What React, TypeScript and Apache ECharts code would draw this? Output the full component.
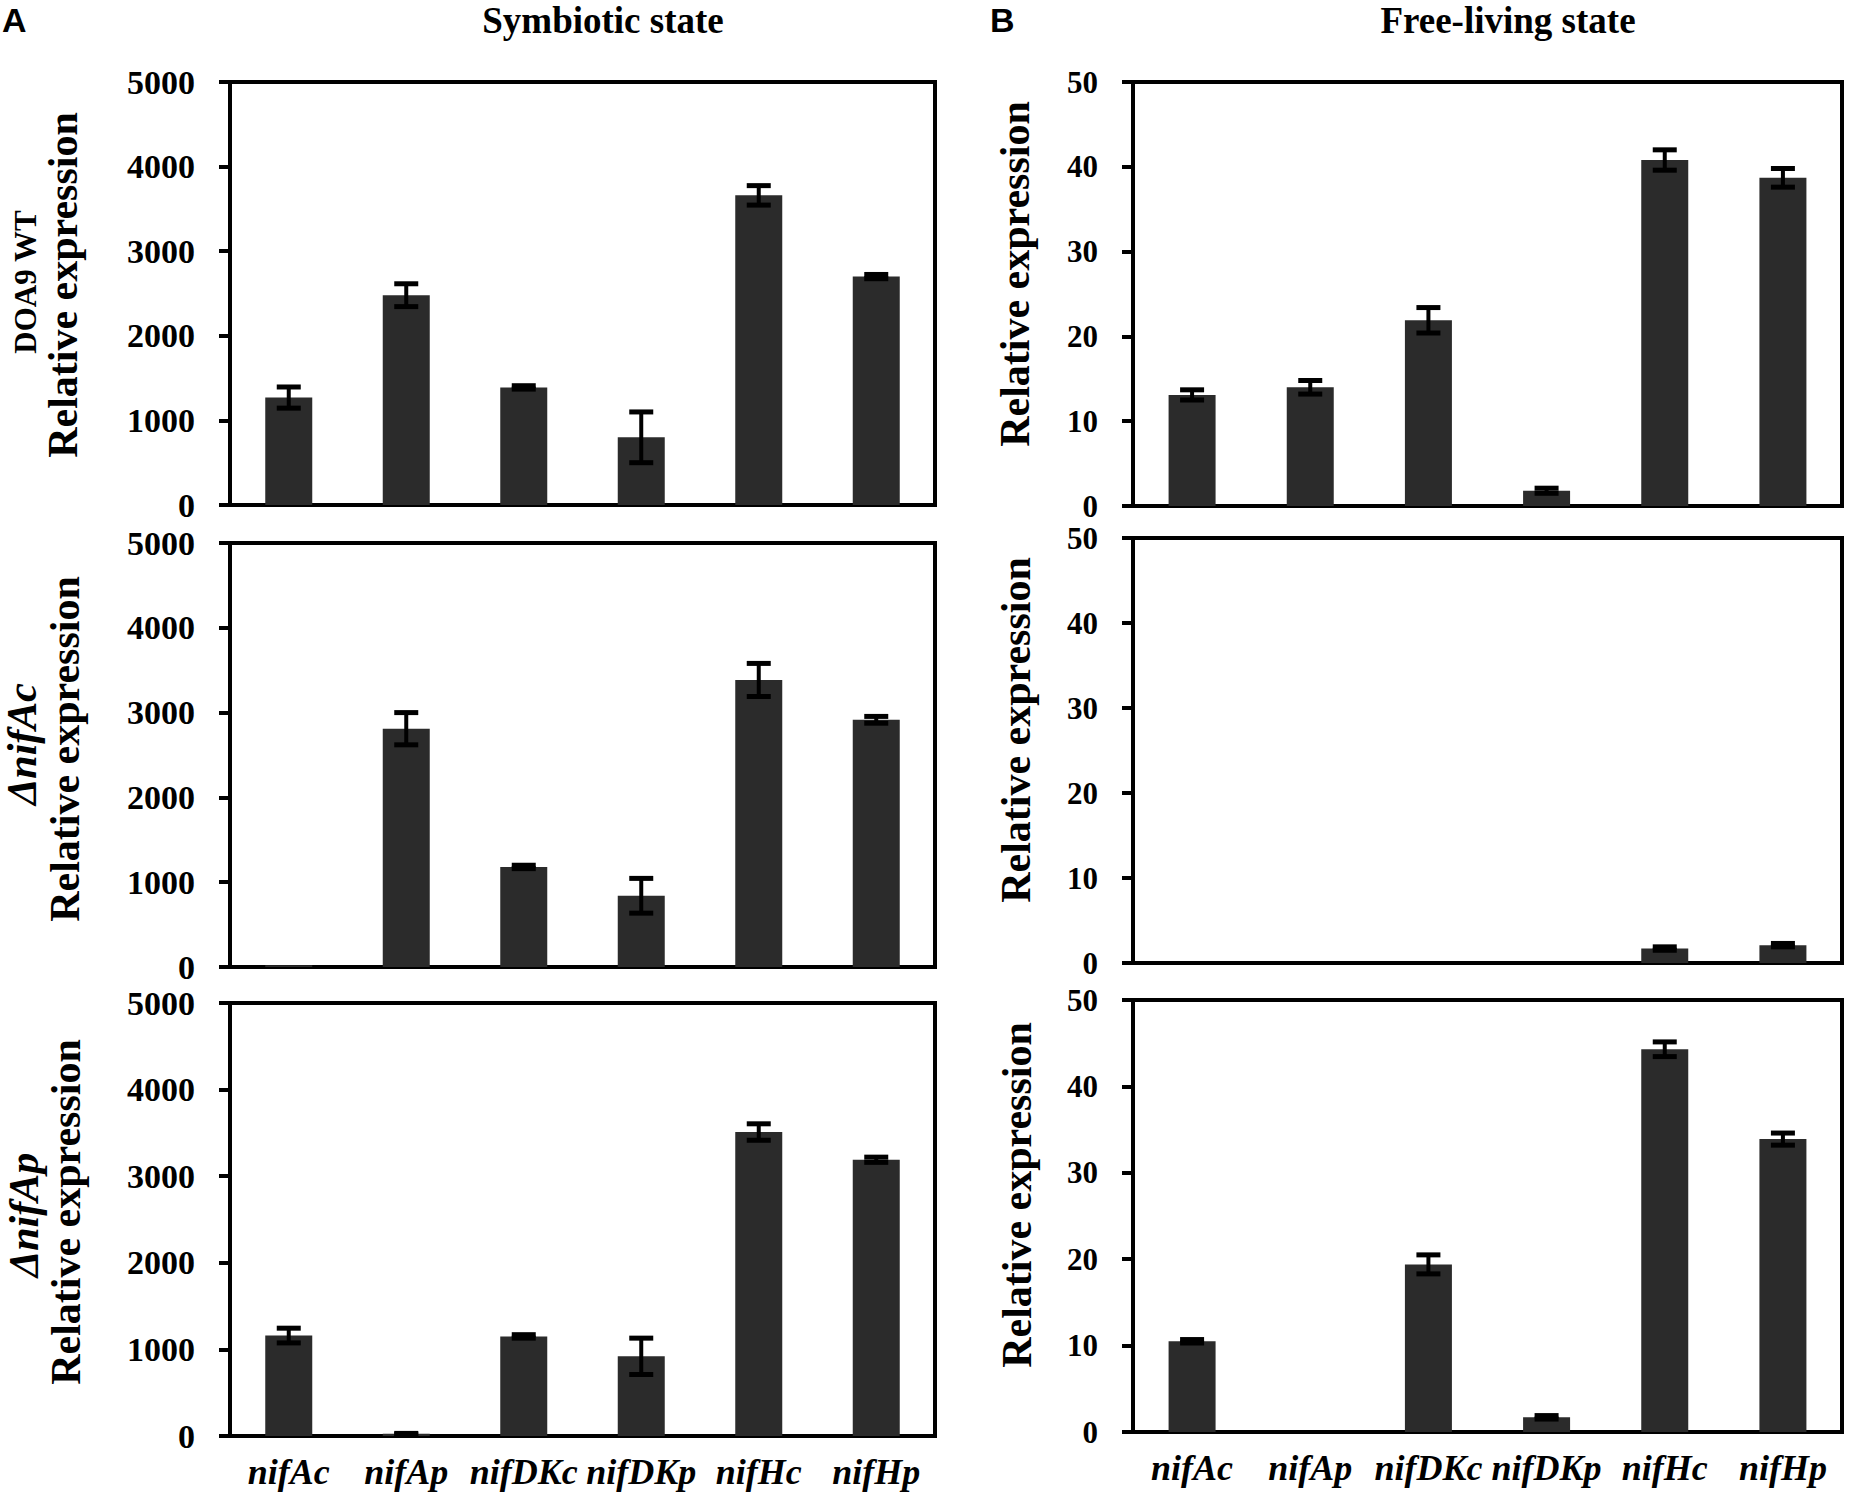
import React, { useEffect, useRef } from "react";
import * as echarts from "echarts";

const genes = ["nifAc", "nifAp", "nifDKc", "nifDKp", "nifHc", "nifHp"];

const symWT = [1270, 2480, 1390, 800, 3660, 2700];
const symWTErr = [125, 135, 20, 300, 115, 25];
const symNifAc = [20, 2810, 1180, 840, 3385, 2915];
const symNifAcErr = [0, 190, 20, 205, 195, 40];
const symNifAp = [1160, 25, 1150, 920, 3510, 3190];
const symNifApErr = [85, 5, 20, 210, 95, 30];

const freeWT = [13.1, 14.0, 21.9, 1.8, 40.8, 38.7];
const freeWTErr = [0.6, 0.8, 1.5, 0.3, 1.2, 1.1];
const freeNifAc = [0, 0, 0, 0, 1.7, 2.1];
const freeNifAcErr = [0, 0, 0, 0, 0.2, 0.2];
const freeNifAp = [10.5, 0, 19.4, 1.7, 44.3, 33.9];
const freeNifApErr = [0.2, 0, 1.1, 0.2, 0.85, 0.7];

const symTicks = { min: 0, max: 5000, interval: 1000 };
const freeTicks = { min: 0, max: 50, interval: 10 };

const FONT = '"Liberation Serif", "Times New Roman", serif';

export default function App() {
  const ref = useRef<HTMLDivElement>(null);

  useEffect(() => {
    if (!ref.current) return;
    const chart = echarts.init(ref.current, undefined, { renderer: "svg" });

    const grids = [
      { left: 230, top: 82, width: 705, height: 423 },
      { left: 1133, top: 82, width: 709, height: 424 },
      { left: 230, top: 543, width: 705, height: 424 },
      { left: 1133, top: 538, width: 709, height: 425 },
      { left: 230, top: 1003, width: 705, height: 433 },
      { left: 1133, top: 1000, width: 709, height: 432 },
    ].map((g) => ({ ...g, show: true, borderColor: "#000", borderWidth: 4, backgroundColor: "transparent" }));

    const panels = [
      { vals: symWT, errs: symWTErr, ticks: symTicks, fs: 34 },
      { vals: freeWT, errs: freeWTErr, ticks: freeTicks, fs: 31 },
      { vals: symNifAc, errs: symNifAcErr, ticks: symTicks, fs: 34 },
      { vals: freeNifAc, errs: freeNifAcErr, ticks: freeTicks, fs: 31 },
      { vals: symNifAp, errs: symNifApErr, ticks: symTicks, fs: 34 },
      { vals: freeNifAp, errs: freeNifApErr, ticks: freeTicks, fs: 31 },
    ];

    const xAxis = panels.map((_, i) => ({
      type: "category",
      gridIndex: i,
      data: genes,
      axisTick: { show: false },
      axisLine: { lineStyle: { color: "#000", width: 4 } },
      axisLabel: {
        show: i >= 4,
        interval: 0,
        color: "#000",
        fontFamily: FONT,
        fontStyle: "italic",
        fontWeight: "bold",
        fontSize: 36,
        margin: 18,
      },
    }));

    const yAxis = panels.map((p, i) => ({
      type: "value",
      gridIndex: i,
      min: p.ticks.min,
      max: p.ticks.max,
      interval: p.ticks.interval,
      splitLine: { show: false },
      axisLine: { show: true, lineStyle: { color: "#000", width: 4 } },
      axisTick: { show: true, inside: false, length: 11, lineStyle: { color: "#000", width: 4 } },
      axisLabel: {
        color: "#000",
        fontFamily: FONT,
        fontWeight: "bold",
        fontSize: p.fs,
        margin: 35,
        formatter: (v: number) => String(v),
      },
    }));

    const series: any[] = [];
    panels.forEach((p, i) => {
      series.push({
        type: "bar",
        xAxisIndex: i,
        yAxisIndex: i,
        data: p.vals,
        barWidth: 47,
        itemStyle: { color: "#2b2b2b" },
        z: 2,
      });
      series.push({
        type: "custom",
        xAxisIndex: i,
        yAxisIndex: i,
        z: 5,
        clip: false,
        encode: { x: 0, y: 1 },
        data: p.vals.map((v, k) => [k, v, p.errs[k]]),
        renderItem: (params: any, api: any) => {
          const xi = api.value(0);
          const v = api.value(1);
          const e = api.value(2);
          if (!e) return { type: "group", children: [] };
          const top = api.coord([xi, v + e]);
          const bot = api.coord([xi, v - e]);
          const hw = 12;
          return {
            type: "group",
            children: [
              { type: "line", shape: { x1: top[0], y1: top[1], x2: bot[0], y2: bot[1] }, style: { stroke: "#000", lineWidth: 4 } },
              { type: "line", shape: { x1: top[0] - hw, y1: top[1], x2: top[0] + hw, y2: top[1] }, style: { stroke: "#000", lineWidth: 5 } },
              { type: "line", shape: { x1: bot[0] - hw, y1: bot[1], x2: bot[0] + hw, y2: bot[1] }, style: { stroke: "#000", lineWidth: 5 } },
            ],
          };
        },
      });
    });

    const vText = (text: string, x: number, y: number, font: string) => ({
      type: "text",
      x,
      y,
      rotation: Math.PI / 2,
      style: {
        text,
        font,
        fill: "#000",
        align: "center",
        verticalAlign: "middle",
        textAlign: "center",
        textVerticalAlign: "middle",
      },
    });
    const hText = (text: string, x: number, y: number, font: string, align = "center") => ({
      type: "text",
      x,
      y,
      style: {
        text,
        font,
        fill: "#000",
        align,
        verticalAlign: "middle",
        textAlign: align,
        textVerticalAlign: "middle",
      },
    });

    const titleFont = `bold 42px ${FONT}`;
    const graphic = [
      hText("A", 2, 20, 'bold 34px "Liberation Sans Narrow", "Liberation Sans", Arial, sans-serif', "left"),
      hText("B", 990, 20, 'bold 34px "Liberation Sans Narrow", "Liberation Sans", Arial, sans-serif', "left"),
      hText("Symbiotic state", 603, 20, `bold 37px ${FONT}`),
      hText("Free-living state", 1508, 20, `bold 37px ${FONT}`),
      vText("DOA9 WT", 25, 282, `bold 31px ${FONT}`),
      vText("Relative expression", 63, 285, titleFont),
      vText("ΔnifAc", 22, 744, `italic bold 42px ${FONT}`),
      vText("Relative expression", 65, 749, titleFont),
      vText("ΔnifAp", 24, 1215, `italic bold 42px ${FONT}`),
      vText("Relative expression", 66, 1212, titleFont),
      vText("Relative expression", 1015, 274, titleFont),
      vText("Relative expression", 1016, 730, titleFont),
      vText("Relative expression", 1017, 1195, titleFont),
    ];

    chart.setOption({
      animation: false,
      backgroundColor: "#fff",
      grid: grids,
      xAxis,
      yAxis,
      series,
      graphic,
    });

    return () => chart.dispose();
  }, []);

  return (
    <div
      ref={ref}
      style={{ position: "absolute", left: 0, top: 0, width: 1853, height: 1506, background: "#fff" }}
    />
  );
}
